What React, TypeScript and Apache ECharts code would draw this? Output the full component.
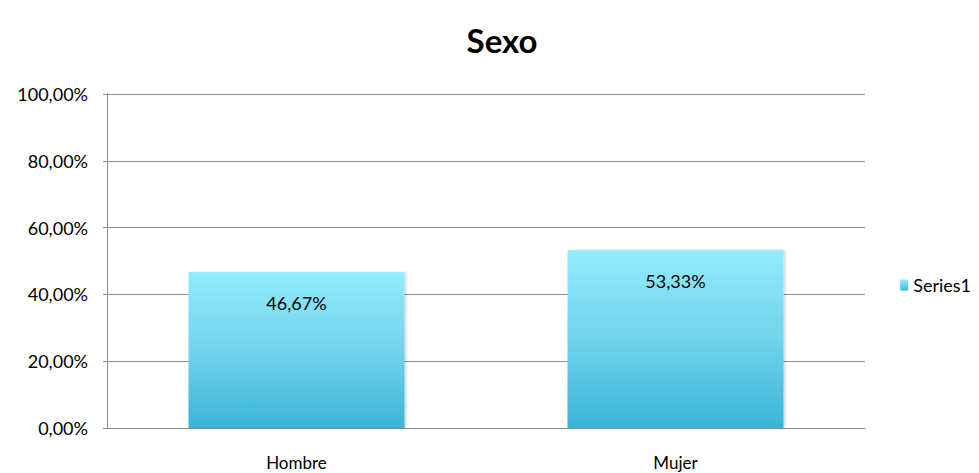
import React, { useEffect, useRef } from "react";
import * as echarts from "echarts";

const categories = ["Hombre", "Mujer"];
const seriesName = "Series1";
const values = [46.67, 53.33];
const titleText = "Sexo";

const fmt = (v: number) => v.toFixed(2).replace(".", ",") + "%";

export default function App() {
  const ref = useRef<HTMLDivElement>(null);
  useEffect(() => {
    const chart = echarts.init(ref.current!, null, { renderer: "svg" });
    const font = "Lato, 'Open Sans', sans-serif";
    chart.setOption({
      animation: false,
      backgroundColor: "#ffffff",
      title: {
        text: titleText,
        left: 497,
        textAlign: "center",
        top: 18,
        textStyle: { fontFamily: font, fontSize: 33, fontWeight: "bold", color: "#000" },
      },
      legend: {
        data: [seriesName],
        right: 3,
        top: 271,
        orient: "vertical",
        itemWidth: 8,
        itemHeight: 11,
        itemGap: 4,
        textStyle: { fontFamily: font, fontSize: 18, color: "#000" },
        icon: "rect",
      },
      grid: { left: 107, right: 114, top: 94, bottom: 45, containLabel: false },
      xAxis: {
        type: "category",
        data: categories,
        axisLine: { lineStyle: { color: "#8c8c8c", width: 1 } },
        axisTick: { show: false },
        axisLabel: { fontFamily: font, fontSize: 17, color: "#000", margin: 26 },
      },
      yAxis: {
        type: "value",
        min: 0,
        max: 100,
        interval: 20,
        axisLine: { show: true, lineStyle: { color: "#8c8c8c" } },
        axisTick: { show: true, length: 4, lineStyle: { color: "#8c8c8c" } },
        splitLine: { lineStyle: { color: "#8c8c8c", width: 1 } },
        axisLabel: { fontFamily: font, fontSize: 18, color: "#000", margin: 19, formatter: (v: number) => fmt(v) },
      },
      series: [
        {
          name: seriesName,
          type: "bar",
          data: values,
          barWidth: "57%",
          itemStyle: {
            color: new echarts.graphic.LinearGradient(0, 0, 0, 1, [
              { offset: 0, color: "#92ecfd" },
              { offset: 0.5, color: "#72d3ec" },
              { offset: 1, color: "#3ab4d8" },
            ]),
            shadowColor: "rgba(0,0,0,0.15)",
            shadowOffsetX: 2,
            shadowBlur: 2,
          },
          label: {
            show: true,
            position: "insideTop",
            distance: 22,
            fontFamily: font,
            fontSize: 18,
            color: "#000",
            formatter: (p: any) => fmt(p.value),
          },
        },
      ],
    });
    return () => chart.dispose();
  }, []);
  return <div ref={ref} style={{ position: "fixed", left: 0, top: 0, width: 979, height: 473 }} />;
}
